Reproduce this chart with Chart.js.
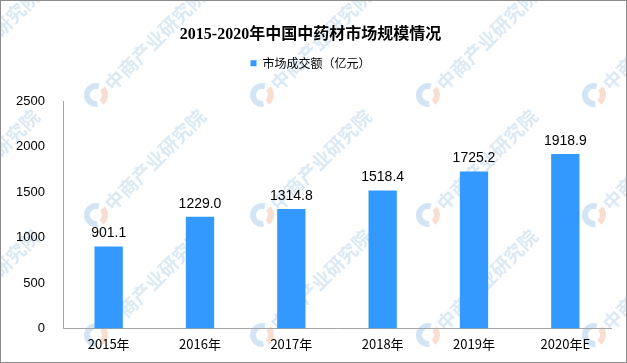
<!DOCTYPE html>
<html>
<head>
<meta charset="utf-8">
<script src="https://cdn.jsdelivr.net/npm/chart.js@4.4.0/dist/chart.umd.min.js"></script>
<style>
    html, body { margin: 0; padding: 0; background: #fff; }
    #wrap { width: 627px; height: 363px; position: relative; }
</style>
</head>
<body>
<div id="wrap"><canvas id="marketChart" width="627" height="363"></canvas></div>
<script>
const years = ['2015年', '2016年', '2017年', '2018年', '2019年', '2020年E'];
const marketValues = [901.1, 1229.0, 1314.8, 1518.4, 1725.2, 1918.9];
const seriesLabel = '市场成交额（亿元）';
const yTicks = [0, 500, 1000, 1500, 2000, 2500];
const watermarkText = '中商产业研究院';

const CJK = '"Noto Sans CJK SC", "Liberation Sans", sans-serif';

// white background, faint tiled watermark, gray frame
const backdrop = {
    id: 'backdrop',
    beforeDraw(chart) {
        const ctx = chart.ctx;
        ctx.save();
        ctx.fillStyle = '#fff';
        ctx.fillRect(0, 0, chart.width, chart.height);

        for (let x = -70; x < chart.width + 100; x += 166) {
            for (let y = -25; y < chart.height + 60; y += 120) {
                // logo
                ctx.lineWidth = 6;
                ctx.strokeStyle = '#d3e5f4';
                ctx.beginPath();
                ctx.arc(x, y, 9, Math.PI * 0.45, Math.PI * 1.6);
                ctx.stroke();
                ctx.strokeStyle = '#f8ddd1';
                ctx.beginPath();
                ctx.arc(x, y, 9, Math.PI * 1.75, Math.PI * 0.3);
                ctx.stroke();
                // text
                ctx.save();
                ctx.translate(x + 12, y - 8);
                ctx.rotate(-Math.PI / 4);
                ctx.font = 'bold 19px ' + CJK;
                ctx.fillStyle = '#dbe9f5';
                ctx.textAlign = 'left';
                ctx.textBaseline = 'middle';
                ctx.fillText(watermarkText, 0, 0);
                ctx.restore();
            }
        }

        ctx.strokeStyle = '#8c8c8c';
        ctx.lineWidth = 1;
        ctx.strokeRect(0.5, 0.5, chart.width - 1, chart.height - 1);
        ctx.restore();
    }
};

// draws the value above each bar
const barLabels = {
    id: 'barLabels',
    afterDatasetsDraw(chart) {
        const ctx = chart.ctx;
        const meta = chart.getDatasetMeta(0);
        ctx.save();
        ctx.font = '14px "Liberation Sans", sans-serif';
        ctx.fillStyle = '#000';
        ctx.textAlign = 'center';
        ctx.textBaseline = 'bottom';
        meta.data.forEach((bar, i) => {
            ctx.fillText(marketValues[i].toFixed(1), bar.x, bar.y - 6);
        });
        ctx.restore();
    }
};

// extra room under the legend
const legendGap = {
    id: 'legendGap',
    beforeInit(chart) {
        const fit = chart.legend.fit;
        chart.legend.fit = function () {
            fit.bind(chart.legend)();
            this.height += 22;
        };
    }
};

new Chart(document.getElementById('marketChart'), {
    type: 'bar',
    data: {
        labels: years,
        datasets: [{
            label: seriesLabel,
            data: marketValues,
            backgroundColor: '#3399ff',
            borderWidth: 0,
            categoryPercentage: 1,
            barPercentage: 0.31
        }]
    },
    options: {
        responsive: false,
        animation: false,
        layout: {
            padding: { top: 4, right: 16, bottom: 3, left: 10 }
        },
        plugins: {
            title: {
                display: true,
                text: '2015-2020年中国中药材市场规模情况',
                color: '#000',
                font: { size: 16, weight: 'bold', family: '"Liberation Serif", "Noto Sans CJK SC", serif' },
                padding: { top: 21, bottom: 5 }
            },
            legend: {
                display: true,
                labels: {
                    boxWidth: 6,
                    boxHeight: 6,
                    color: '#000',
                    font: { size: 12, family: CJK },
                    padding: 8
                }
            },
            tooltip: { enabled: false }
        },
        scales: {
            x: {
                grid: { display: false, drawTicks: false },
                border: { color: '#a6a6a6', width: 1 },
                ticks: {
                    color: '#000',
                    font: { size: 13, family: CJK },
                    padding: 8,
                    maxRotation: 0
                }
            },
            y: {
                min: 0,
                max: 2500,
                afterBuildTicks(scale) {
                    scale.ticks = yTicks.map(v => ({ value: v }));
                },
                afterFit(scale) {
                    scale.width = 53;
                },
                grid: { display: false, drawTicks: false },
                border: { color: '#a6a6a6', width: 1 },
                ticks: {
                    color: '#000',
                    font: { size: 13, family: '"Liberation Sans", sans-serif' },
                    padding: 18,
                    callback: value => String(value)
                }
            }
        }
    },
    plugins: [backdrop, barLabels, legendGap]
});
</script>
</body>
</html>
